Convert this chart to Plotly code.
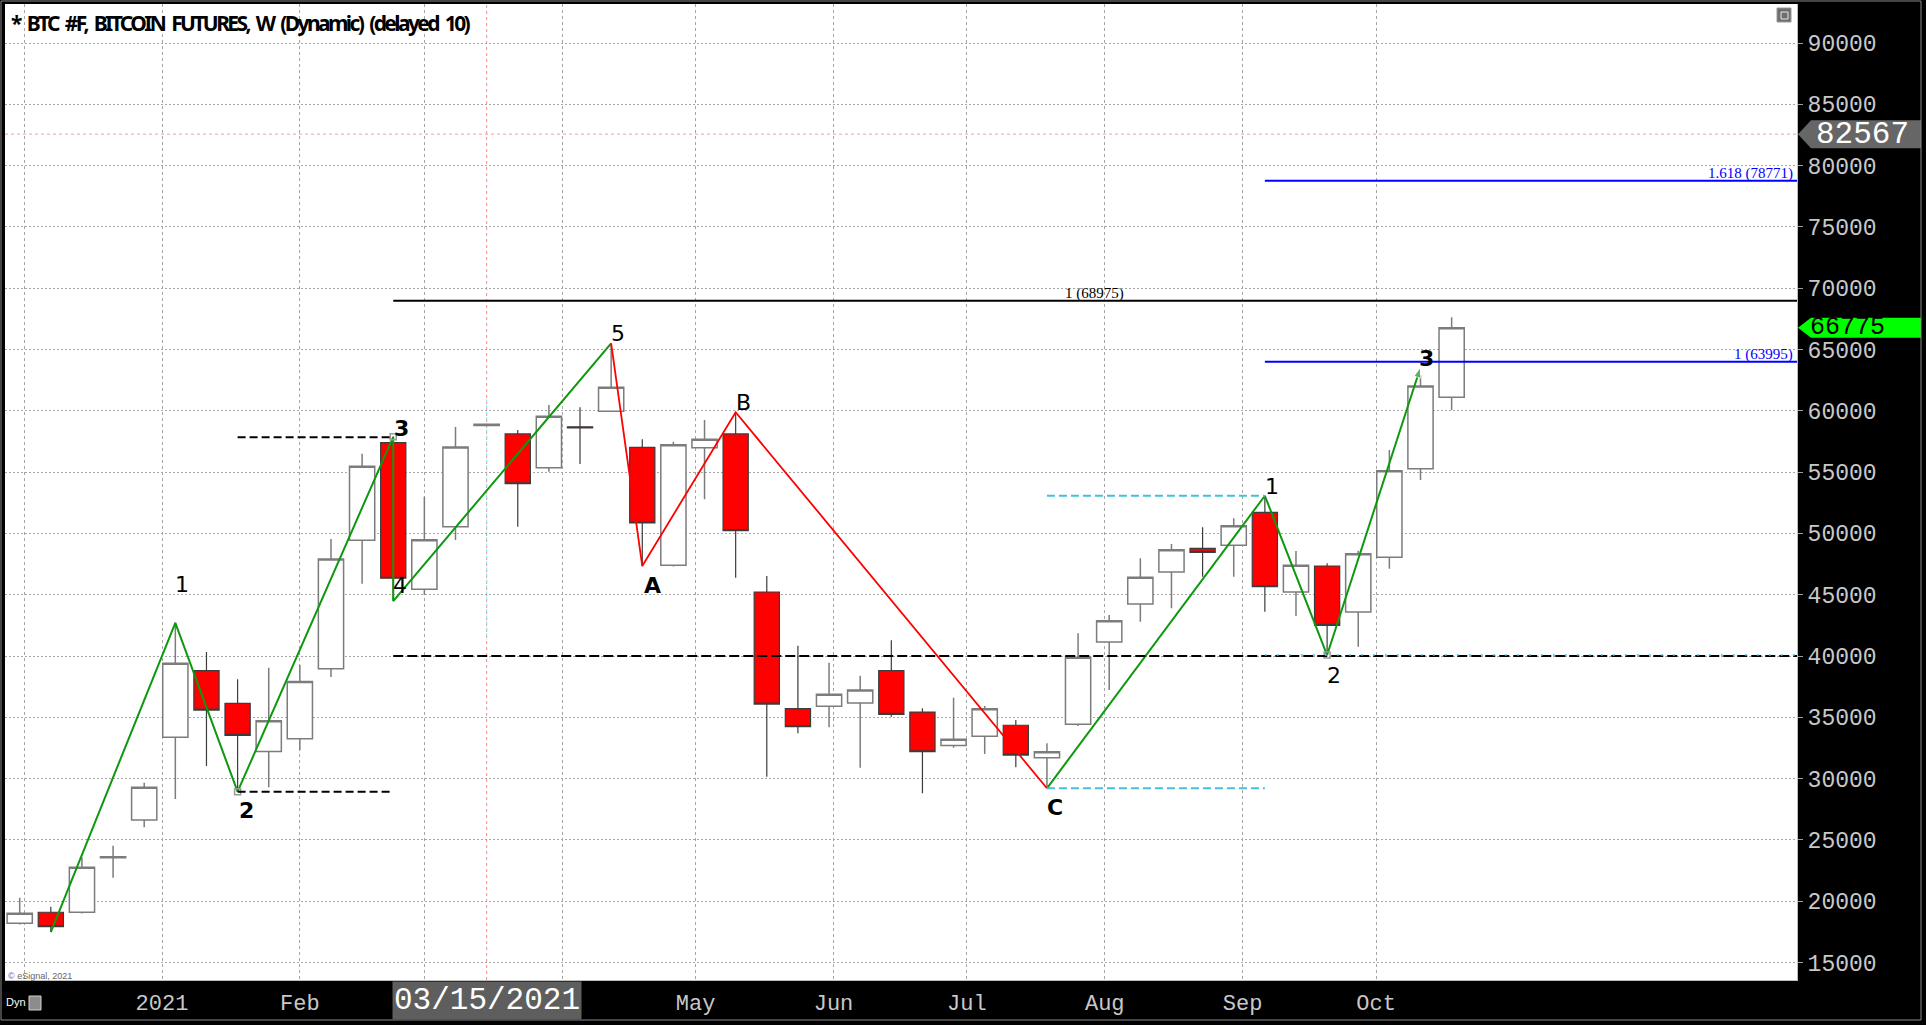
import datetime as dt
import plotly.graph_objects as go

# ---------------- data ----------------
week_dates = ["2020-11-30", "2020-12-07", "2020-12-14", "2020-12-21", "2020-12-28",
              "2021-01-04", "2021-01-11", "2021-01-18", "2021-01-25", "2021-02-01",
              "2021-02-08", "2021-02-15", "2021-02-22", "2021-03-01", "2021-03-08",
              "2021-03-15", "2021-03-22", "2021-03-29", "2021-04-05", "2021-04-12",
              "2021-04-19", "2021-04-26", "2021-05-03", "2021-05-10", "2021-05-17",
              "2021-05-24", "2021-05-31", "2021-06-07", "2021-06-14", "2021-06-21",
              "2021-06-28", "2021-07-05", "2021-07-12", "2021-07-19", "2021-07-26",
              "2021-08-02", "2021-08-09", "2021-08-16", "2021-08-23", "2021-08-30",
              "2021-09-06", "2021-09-13", "2021-09-20", "2021-09-27", "2021-10-04",
              "2021-10-11", "2021-10-18"]
opens = [18200, 19100, 19100, 23550, 26620, 33370, 38800, 36140, 32220, 33250,
         38960, 49440, 57400, 45440, 50550, 58800, 58110, 55360, 58700, 59960,
         57020, 47400, 56990, 58110, 45220, 35700, 35900, 36160, 38800, 35430,
         32710, 33450, 34350, 31700, 34430, 41140, 44240, 46850, 48780, 49030,
         51720, 45220, 47340, 43590, 48050, 55280, 61100]
highs = [20280, 19550, 23580, 24520, 29670, 42710, 40320, 38100, 39040, 39260,
         49550, 56500, 57880, 52990, 58680, 58950, 58430, 60470, 60290, 65500,
         57670, 57480, 59250, 59880, 46520, 40840, 39450, 38390, 41280, 35730,
         36600, 35920, 34780, 32880, 41850, 43340, 47970, 49130, 50500, 51230,
         53070, 48560, 47560, 48590, 56800, 62900, 67630]
lows = [18100, 17480, 19000, 21910, 26030, 28330, 31030, 28930, 29290, 32330,
        38280, 45900, 44480, 44970, 49460, 58750, 50550, 55030, 55660, 59900,
        47340, 47300, 52780, 46380, 30150, 33690, 34180, 30890, 35050, 28800,
        32520, 32000, 30920, 29210, 34290, 37220, 42800, 43890, 46470, 46470,
        43610, 43260, 40080, 40760, 47120, 54350, 60060]
closes = [19010, 17920, 22760, 23620, 29290, 39400, 35590, 33530, 34720, 37930,
          47920, 55470, 46340, 49480, 57050, 58900, 54050, 59550, 58600, 61920,
          50850, 57230, 57670, 50220, 36080, 34230, 36870, 37220, 35240, 32190,
          33200, 35700, 31920, 32190, 39890, 42880, 46420, 48670, 48460, 50630,
          45650, 47400, 42500, 48340, 55120, 62020, 66775]

y_ticks = [15000, 20000, 25000, 30000, 35000, 40000, 45000, 50000, 55000,
           60000, 65000, 70000, 75000, 80000, 85000, 90000]
month_ticks = ["2020-12-01", "2021-01-01", "2021-02-01", "2021-03-01", "2021-04-01",
               "2021-05-01", "2021-06-01", "2021-07-01", "2021-08-01", "2021-09-01",
               "2021-10-01"]
month_labels = ["", "2021", "Feb", "", "", "May", "Jun", "Jul", "Aug", "Sep", "Oct"]

# Elliott wave pivots
wave1_dates = ["2020-12-07", "2021-01-04", "2021-01-18", "2021-02-22", "2021-02-22", "2021-04-12"]
wave1_prices = [17480, 42710, 28930, 57880, 44480, 65500]
abc_dates = ["2021-04-12", "2021-04-19", "2021-05-10", "2021-07-19"]
abc_prices = [65500, 47340, 59880, 29210]
wave2_dates = ["2021-07-19", "2021-09-06", "2021-09-20", "2021-10-11"]
wave2_prices = [29210, 53070, 40080, 63550]

label_texts = ["1", "2", "3", "4", "5", "A", "B", "C", "1", "2", "3"]
label_dates = ["2021-01-04", "2021-01-18", "2021-02-22", "2021-02-22", "2021-04-12",
               "2021-04-19", "2021-05-10", "2021-07-19", "2021-09-06", "2021-09-20",
               "2021-10-11"]
label_prices = [42710, 28930, 57880, 44480, 65500, 47340, 59880, 29210, 53070, 40080, 63550]
label_bold = [False, True, True, False, False, True, False, True, False, False, True]

anchor_dates = ["2021-01-18", "2021-02-22", "2021-09-20"]
anchor_prices = [28930, 57880, 40080]

fib_texts = ["1 (68975)", "1.618 (78771)", "1 (63995)"]
fib_values = [68975, 78771, 63995]
fib_start = ["2021-02-22", "2021-09-06", "2021-09-06"]

support_level = 40000
wave3_level, wave2_level = 57840, 28930
cyan_levels = [53070, 29210]
cyan_low_level = 40080
last_price = 66775
cursor_price = 82567
cursor_date = "2021-03-15"
cursor_bar_span = [60930, 41300]
title_text = "* BTC #F, BITCOIN FUTURES, W (Dynamic) (delayed 10)"

# ---------------- layout geometry ----------------
W, H = 1926, 1025
PL, PR, PT, PB = 5, 1797, 4, 980
PX_PER_DAY = 4.447
JAN1_PX = 162
PX_PER_5000 = 61.3
Y90K_PX = 43


def px_to_date(px):
    return dt.datetime(2021, 1, 1) + dt.timedelta(days=(px - JAN1_PX) / PX_PER_DAY)


def py_to_val(py):
    return 90000 - (py - Y90K_PX) * 5000 / PX_PER_5000


def pxp(px):
    return (px - PL) / (PR - PL)


def pyp(py):
    return (PB - py) / (PB - PT)


x_start = px_to_date(PL).isoformat()
x_end = px_to_date(PR).isoformat()
y_lo, y_hi = py_to_val(PB), py_to_val(PT)
val_per_px = 5000 / PX_PER_5000

GREEN = "#0e980e"
RED = "#ff0000"
BLUE = "#0000ff"
CYAN = "#45bfe0"
AXIS_TXT = "#c8c8c8"
MONO = "Liberation Mono, DejaVu Sans Mono, monospace"

fig = go.Figure()

fig.add_trace(go.Candlestick(
    x=week_dates, open=opens, high=highs, low=lows, close=closes,
    increasing=dict(fillcolor="white", line=dict(color="#7c7c7c", width=1.5)),
    decreasing=dict(fillcolor=RED, line=dict(color="#3c3c3c", width=1.2)),
    whiskerwidth=0, hoverinfo="skip", showlegend=False))

fig.add_trace(go.Scatter(x=wave1_dates, y=wave1_prices, mode="lines",
                         line=dict(color=GREEN, width=2), hoverinfo="skip", showlegend=False))
fig.add_trace(go.Scatter(x=abc_dates, y=abc_prices, mode="lines",
                         line=dict(color=RED, width=1.8), hoverinfo="skip", showlegend=False))
fig.add_trace(go.Scatter(x=wave2_dates, y=wave2_prices, mode="lines+markers",
                         line=dict(color=GREEN, width=2),
                         marker=dict(symbol="arrow", angleref="previous", color=GREEN,
                                     size=[0, 0, 0, 11]),
                         hoverinfo="skip", showlegend=False))
fig.add_trace(go.Scatter(x=anchor_dates, y=anchor_prices, mode="markers",
                         marker=dict(symbol="square-open", size=6, color="#9a9a9a",
                                     line=dict(width=1.5)),
                         hoverinfo="skip", showlegend=False))

shapes = []


def hline(x0, x1, y, color, width, dash="solid"):
    shapes.append(dict(type="line", xref="x", yref="y", x0=x0, x1=x1, y0=y, y1=y,
                       line=dict(color=color, width=width, dash=dash), layer="above"))


# cursor cross-hair
shapes.append(dict(type="line", xref="x", yref="paper", x0=cursor_date, x1=cursor_date,
                   y0=0, y1=1, line=dict(color="#ff8a8a", width=1, dash="3px,3px"), layer="below"))
shapes.append(dict(type="line", xref="paper", yref="y", x0=0, x1=1, y0=cursor_price,
                   y1=cursor_price, line=dict(color="#ff9a9a", width=1, dash="3px,3px"),
                   layer="below"))
shapes.append(dict(type="line", xref="x", yref="y", x0=cursor_date, x1=cursor_date,
                   y0=cursor_bar_span[0], y1=cursor_bar_span[1],
                   line=dict(color="#7fe6f2", width=1, dash="3px,3px"), layer="below"))

hline("2021-01-18", "2021-02-22", wave3_level, "black", 2, "8px,4px")
hline("2021-01-18", "2021-02-22", wave2_level, "black", 2, "8px,4px")
hline("2021-02-22", x_end, support_level, "black", 2, "10px,4px")
for lvl in cyan_levels:
    hline("2021-07-19", "2021-09-06", lvl, CYAN, 2, "8px,4px")
hline("2021-09-06", x_end, cyan_low_level, CYAN, 1.5, "2px,10px")
hline(fib_start[0], x_end, fib_values[0], "black", 2)
hline(fib_start[1], x_end, fib_values[1], BLUE, 2)
hline(fib_start[2], x_end, fib_values[2], BLUE, 2)


# price tags on the right axis
def price_tag(value, half_px, fill):
    h = half_px * val_per_px
    xa, xb, xr = pxp(1798), pxp(1811), pxp(1921)
    path = (f"M {xa},{value} L {xb},{value + h} L {xr},{value + h} "
            f"L {xr},{value - h} L {xb},{value - h} Z")
    shapes.append(dict(type="path", xref="paper", yref="y", path=path,
                       fillcolor=fill, line=dict(width=0), layer="above"))


price_tag(cursor_price, 14, "#666666")
price_tag(last_price, 10, "#00ff00")

# frame and small decorations
shapes.append(dict(type="rect", xref="paper", yref="paper", x0=pxp(1), x1=pxp(1921),
                   y0=pyp(1020), y1=pyp(1), line=dict(color="#8a8a8a", width=1)))
shapes.append(dict(type="rect", xref="paper", yref="paper", x0=pxp(1777), x1=pxp(1791),
                   y0=pyp(22), y1=pyp(8), fillcolor="#6e6e6e",
                   line=dict(color="#9a9a9a", width=1), layer="above"))
shapes.append(dict(type="rect", xref="paper", yref="paper", x0=pxp(1781), x1=pxp(1788),
                   y0=pyp(19), y1=pyp(12), line=dict(color="#e6e6e6", width=1), layer="above"))
shapes.append(dict(type="rect", xref="paper", yref="paper", x0=pxp(29), x1=pxp(41),
                   y0=pyp(1010), y1=pyp(996), fillcolor="#8c8c8c",
                   line=dict(color="#d0d0d0", width=1), layer="above"))

annotations = []

# wave labels
label_shift = [(7, -38), (9, 19), (8, -8), (7, -16), (7, -10), (10, 19), (8, -10),
               (8, 19), (7, -9), (7, 20), (6, -9)]
for t, d, p, b, (dx, dy) in zip(label_texts, label_dates, label_prices, label_bold, label_shift):
    annotations.append(dict(
        x=d, y=p, xref="x", yref="y", text=f"<b>{t}</b>" if b else t, showarrow=False,
        xshift=dx, yshift=-dy,
        font=dict(family="DejaVu Sans, Verdana, sans-serif", size=22, color="black")))

# fib level captions
annotations.append(dict(x=pxp(1094), y=fib_values[0], xref="paper", yref="y",
                        text=fib_texts[0], showarrow=False, xanchor="center",
                        yanchor="bottom", yshift=-3,
                        font=dict(family="Liberation Serif, Times New Roman, serif",
                                  size=15, color="black")))
for txt, val in zip(fib_texts[1:], fib_values[1:]):
    annotations.append(dict(x=pxp(1795), y=val, xref="paper", yref="y", text=txt,
                            showarrow=False, xanchor="right", yanchor="bottom", yshift=-3,
                            font=dict(family="Liberation Serif, Times New Roman, serif",
                                      size=15, color=BLUE)))

# tag texts
annotations.append(dict(x=pxp(1862), y=cursor_price, xref="paper", yref="y",
                        text=str(cursor_price), showarrow=False, xanchor="center",
                        yanchor="middle",
                        font=dict(family=MONO, size=31, color="white")))
annotations.append(dict(x=pxp(1847), y=last_price, xref="paper", yref="y",
                        text=str(last_price), showarrow=False, xanchor="center",
                        yanchor="middle",
                        font=dict(family=MONO, size=25, color="black")))

# cursor date box on the time axis
annotations.append(dict(x=cursor_date, y=pyp(1000.5), xref="x", yref="paper",
                        text="03/15/2021", showarrow=False, bgcolor="#5e5e5e",
                        xanchor="center", yanchor="middle", borderpad=1,
                        font=dict(family=MONO, size=31, color="white")))

# title and misc text
annotations.append(dict(
    x=pxp(9), y=pyp(23), xref="paper", yref="paper",
    text='<span style="letter-spacing:-2.6px;word-spacing:4px">' + title_text + '</span>',
    showarrow=False, xanchor="left", yanchor="middle",
    font=dict(family="Noto Sans", size=21, color="black", weight="bold")))
annotations.append(dict(x=pxp(6), y=pyp(976), xref="paper", yref="paper",
                        text="© eSignal, 2021", showarrow=False, xanchor="left",
                        yanchor="middle",
                        font=dict(family="Liberation Sans, Arial", size=9, color="#666666")))
annotations.append(dict(x=pxp(4), y=pyp(1002), xref="paper", yref="paper", text="Dyn",
                        showarrow=False, xanchor="left", yanchor="middle",
                        font=dict(family="Liberation Sans, Arial", size=11, color="white")))

fig.update_layout(
    width=W, height=H,
    margin=dict(l=PL, r=W - PR, t=PT, b=H - PB, pad=0),
    paper_bgcolor="black", plot_bgcolor="white",
    showlegend=False, hovermode=False,
    boxgap=0.1, boxgroupgap=0.1,
    shapes=shapes, annotations=annotations,
    xaxis=dict(type="date", range=[x_start, x_end], rangeslider=dict(visible=False),
               tickmode="array", tickvals=month_ticks, ticktext=month_labels,
               showgrid=True, gridcolor="#a6a6a6", griddash="3px,3px", gridwidth=1,
               ticks="outside", ticklen=3, tickcolor="black",
               tickfont=dict(family=MONO, size=22, color=AXIS_TXT),
               showline=True, linecolor="#bdbdbd", linewidth=1, zeroline=False,
               fixedrange=True),
    yaxis=dict(side="right", range=[y_lo, y_hi], tickmode="array", tickvals=y_ticks,
               ticktext=[str(v) for v in y_ticks],
               showgrid=True, gridcolor="#a6a6a6", griddash="2px,2px", gridwidth=1,
               ticks="outside", ticklen=5, tickcolor="#a0a0a0",
               tickfont=dict(family=MONO, size=23, color=AXIS_TXT),
               showline=True, linecolor="#bdbdbd", linewidth=1, zeroline=False,
               fixedrange=True),
)

fig.write_html("out.html", config={"displayModeBar": False},
               post_script="document.body.style.margin='0px';document.body.style.overflow='hidden';")
